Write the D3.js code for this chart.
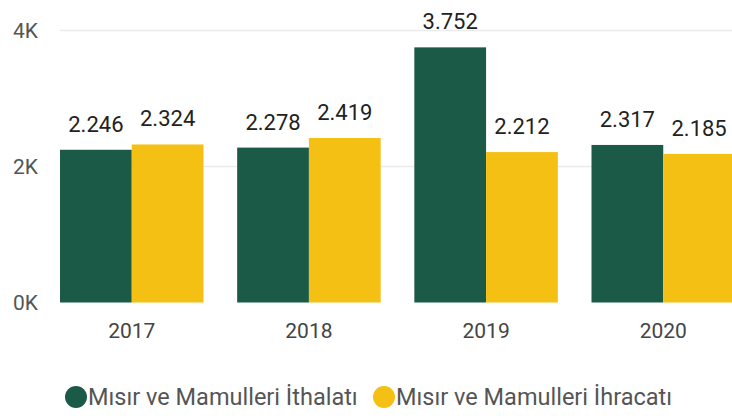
<!DOCTYPE html>
<html>
<head>
<meta charset="utf-8">
<script src="https://cdn.jsdelivr.net/npm/d3@7"></script>
<style>
  body { margin: 0; background: #fff; }
  svg { display: block; font-family: Roboto, "Noto Sans", sans-serif; }
</style>
</head>
<body>
<div id="chart"></div>
<script>
var years = ["2017", "2018", "2019", "2020"];
var seriesNames = ["Mısır ve Mamulleri İthalatı", "Mısır ve Mamulleri İhracatı"];
var ithalat = [2246, 2278, 3752, 2317];
var ihracat = [2324, 2419, 2212, 2185];
var yTicks = [0, 2000, 4000];
var yTickLabels = ["0K", "2K", "4K"];

var colors = ["#1c5a48", "#f3c013"];
var width = 732, height = 416;

var data = years.map((y, i) => ({ year: y, values: [ithalat[i], ihracat[i]] }));

var svg = d3.select("#chart").append("svg")
  .attr("width", width)
  .attr("height", height);

var x0 = d3.scaleBand()
  .domain(years)
  .range([60, 735])
  .paddingInner(0.19)
  .paddingOuter(0);

var x1 = d3.scaleBand()
  .domain([0, 1])
  .range([0, x0.bandwidth()]);

var y = d3.scaleLinear()
  .domain([0, 4000])
  .range([302.5, 30.5]);

// gridlines
svg.append("g")
  .selectAll("line")
  .data(yTicks.slice(1))
  .enter().append("line")
  .attr("x1", 60)
  .attr("x2", width)
  .attr("y1", d => y(d))
  .attr("y2", d => y(d))
  .attr("stroke", "#ebebeb")
  .attr("stroke-width", 1.5);

// y labels
svg.append("g")
  .selectAll("text")
  .data(yTicks)
  .enter().append("text")
  .attr("x", 38)
  .attr("y", d => y(d))
  .attr("dy", "0.35em")
  .attr("text-anchor", "end")
  .attr("font-size", 21)
  .attr("fill", "#555")
  .text((d, i) => yTickLabels[i]);

// bars
var groups = svg.append("g")
  .selectAll("g")
  .data(data)
  .enter().append("g")
  .attr("transform", d => "translate(" + x0(d.year) + ",0)");

groups.selectAll("rect")
  .data(d => d.values)
  .enter().append("rect")
  .attr("x", (d, i) => x1(i))
  .attr("y", d => y(d))
  .attr("width", x1.bandwidth())
  .attr("height", d => y(0) - y(d))
  .attr("fill", (d, i) => colors[i]);

groups.selectAll("text.label")
  .data(d => d.values)
  .enter().append("text")
  .classed("label", true)
  .attr("x", (d, i) => x1(i) + x1.bandwidth() / 2)
  .attr("y", d => y(d) - 18)
  .attr("text-anchor", "middle")
  .attr("font-size", 22)
  .attr("fill", "#222")
  .text(d => d3.format(",")(d).replace(",", "."));

// x labels
svg.append("g")
  .selectAll("text")
  .data(years)
  .enter().append("text")
  .attr("x", d => x0(d) + x0.bandwidth() / 2)
  .attr("y", 338)
  .attr("text-anchor", "middle")
  .attr("font-size", 21)
  .attr("fill", "#444")
  .text(d => d);

// legend
var legendX = [76, 384];
var legend = svg.append("g")
  .selectAll("g")
  .data(seriesNames)
  .enter().append("g")
  .attr("transform", (d, i) => "translate(" + legendX[i] + ",397)");

legend.append("circle")
  .attr("r", 11)
  .attr("fill", (d, i) => colors[i]);

legend.append("text")
  .attr("x", 12)
  .attr("dy", "0.35em")
  .attr("font-size", 23.5)
  .attr("fill", "#555")
  .text(d => d);
</script>
</body>
</html>
